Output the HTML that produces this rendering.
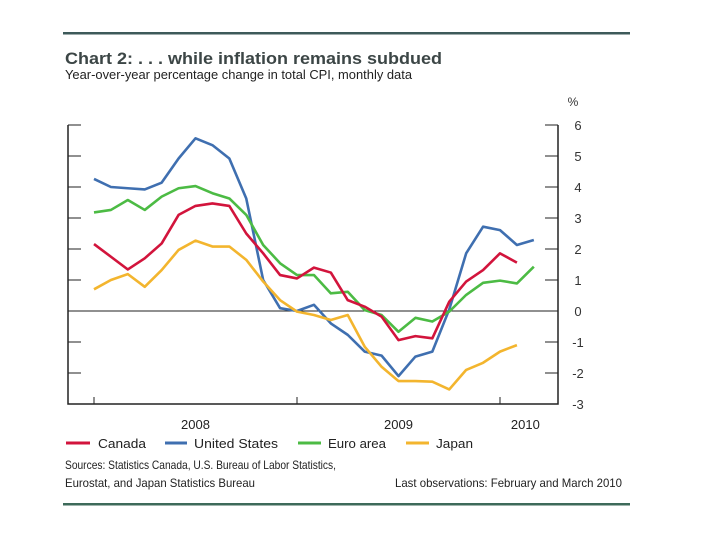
<!DOCTYPE html>
<html><head><meta charset="utf-8"><style>
html,body{margin:0;padding:0;background:#fff;}
svg{display:block;font-family:"Liberation Sans",sans-serif;}
</style></head><body>
<svg id="chart" width="720" height="540" viewBox="0 0 720 540">
<rect x="63" y="32" width="567" height="2.5" fill="#3d5a5a"/>
<text x="65" y="64" font-size="17" font-weight="bold" fill="#3c4646" textLength="377" lengthAdjust="spacingAndGlyphs">Chart 2: . . . while inflation remains subdued</text>
<text x="65" y="79" font-size="13" fill="#222" textLength="347" lengthAdjust="spacingAndGlyphs">Year-over-year percentage change in total CPI, monthly data</text>
<g id="axes"></g>
<g id="series"></g>
<g>
<g><line x1="66" y1="443" x2="90" y2="443" stroke="#d2143c" stroke-width="3"/><text x="98" y="448" font-size="13" fill="#222" textLength="48" lengthAdjust="spacingAndGlyphs">Canada</text></g>
<g><line x1="165" y1="443" x2="187" y2="443" stroke="#3f6fb0" stroke-width="3"/><text x="194" y="448" font-size="13" fill="#222" textLength="84" lengthAdjust="spacingAndGlyphs">United States</text></g>
<g><line x1="298" y1="443" x2="321" y2="443" stroke="#4cbb44" stroke-width="3"/><text x="328" y="448" font-size="13" fill="#222" textLength="58" lengthAdjust="spacingAndGlyphs">Euro area</text></g>
<g><line x1="406" y1="443" x2="429" y2="443" stroke="#f3b52e" stroke-width="3"/><text x="436" y="448" font-size="13" fill="#222" textLength="37" lengthAdjust="spacingAndGlyphs">Japan</text></g>
</g>
<text x="65" y="469" font-size="12" fill="#222" textLength="271" lengthAdjust="spacingAndGlyphs">Sources: Statistics Canada, U.S. Bureau of Labor Statistics,</text>
<text x="65" y="487" font-size="12" fill="#222" textLength="190" lengthAdjust="spacingAndGlyphs">Eurostat, and Japan Statistics Bureau</text>
<text x="395" y="487" font-size="12" fill="#222" textLength="227" lengthAdjust="spacingAndGlyphs">Last observations: February and March 2010</text>
<rect x="63" y="503" width="567" height="2.5" fill="#3d6a5a"/>
</svg>
<script>
const yTicks = [6,5,4,3,2,1,0,-1,-2,-3];
const yearLabels = ["2008","2009","2010"];
const canada = [2.16,1.75,1.34,1.7,2.18,3.1,3.39,3.47,3.39,2.5,1.86,1.16,1.05,1.4,1.24,0.35,0.14,-0.18,-0.94,-0.81,-0.88,0.3,0.95,1.32,1.86,1.56];
const us = [4.26,4.0,3.96,3.92,4.14,4.92,5.57,5.35,4.92,3.63,1.0,0.09,0.0,0.2,-0.4,-0.77,-1.31,-1.44,-2.1,-1.47,-1.31,0.05,1.86,2.72,2.61,2.13,2.29];
const euro = [3.18,3.26,3.58,3.26,3.69,3.96,4.03,3.8,3.63,3.1,2.13,1.54,1.16,1.16,0.57,0.62,0.03,-0.13,-0.67,-0.22,-0.34,-0.02,0.52,0.91,0.98,0.89,1.43];
const japan = [0.7,1.0,1.19,0.78,1.32,1.97,2.27,2.08,2.08,1.65,0.95,0.35,-0.02,-0.13,-0.29,-0.13,-1.15,-1.8,-2.26,-2.26,-2.28,-2.53,-1.9,-1.67,-1.31,-1.1];

const NS='http://www.w3.org/2000/svg';
const L=68,R=558,T=125,B=404;
const yS=v=>311-v*31;
const xS=i=>94+i*203/12;
function mk(tag,attrs,parent){const e=document.createElementNS(NS,tag);for(const k in attrs)e.setAttribute(k,attrs[k]);parent.appendChild(e);return e;}
const ax=document.getElementById('axes');
const a1=mk('path',{d:`M${L},${T} V${B} H${R} V${T}`,fill:'none',stroke:'#222','stroke-width':1.5},ax);


yTicks.forEach(v=>{
  const y=yS(v);
  const t1=mk('line',{x1:L,y1:y,x2:L+13,y2:y,stroke:'#222','stroke-width':1},ax);
  
  
  const t2=mk('line',{x1:R-13,y1:y,x2:R,y2:y,stroke:'#222','stroke-width':1},ax);
  
  
  const tx=mk('text',{x:578,y:y+5,'font-size':13,fill:'#333','text-anchor':'middle'},ax);
  tx.textContent=String(v);
  
  
});
const z=mk('line',{x1:L,y1:yS(0),x2:R,y2:yS(0),stroke:'#222','stroke-width':1},ax);


const pct=mk('text',{x:573,y:106,'font-size':12,fill:'#333','text-anchor':'middle'},ax);
pct.textContent='%';


[0,12,24].forEach(i=>{
  const t=mk('line',{x1:xS(i),y1:B,x2:xS(i),y2:B-7,stroke:'#222','stroke-width':1},ax);
  
  
});
const yearX=[xS(6),xS(18),xS(25.5)];
yearLabels.forEach((s,k)=>{
  const t=mk('text',{x:yearX[k],y:429,'font-size':13,fill:'#222','text-anchor':'middle'},ax);
  t.textContent=s;
  
  
});
const sg=document.getElementById('series');
[[us,'#3f6fb0','us-line'],[euro,'#4cbb44','euro-area-line'],[japan,'#f3b52e','japan-line'],[canada,'#d2143c','canada-line']].forEach(([d,c,n])=>{
  const p=mk('polyline',{points:d.map((v,i)=>xS(i)+','+yS(v)).join(' '),fill:'none',stroke:c,'stroke-width':2.6,'stroke-linejoin':'round'},sg);
  
  
});
</script>
</body></html>
